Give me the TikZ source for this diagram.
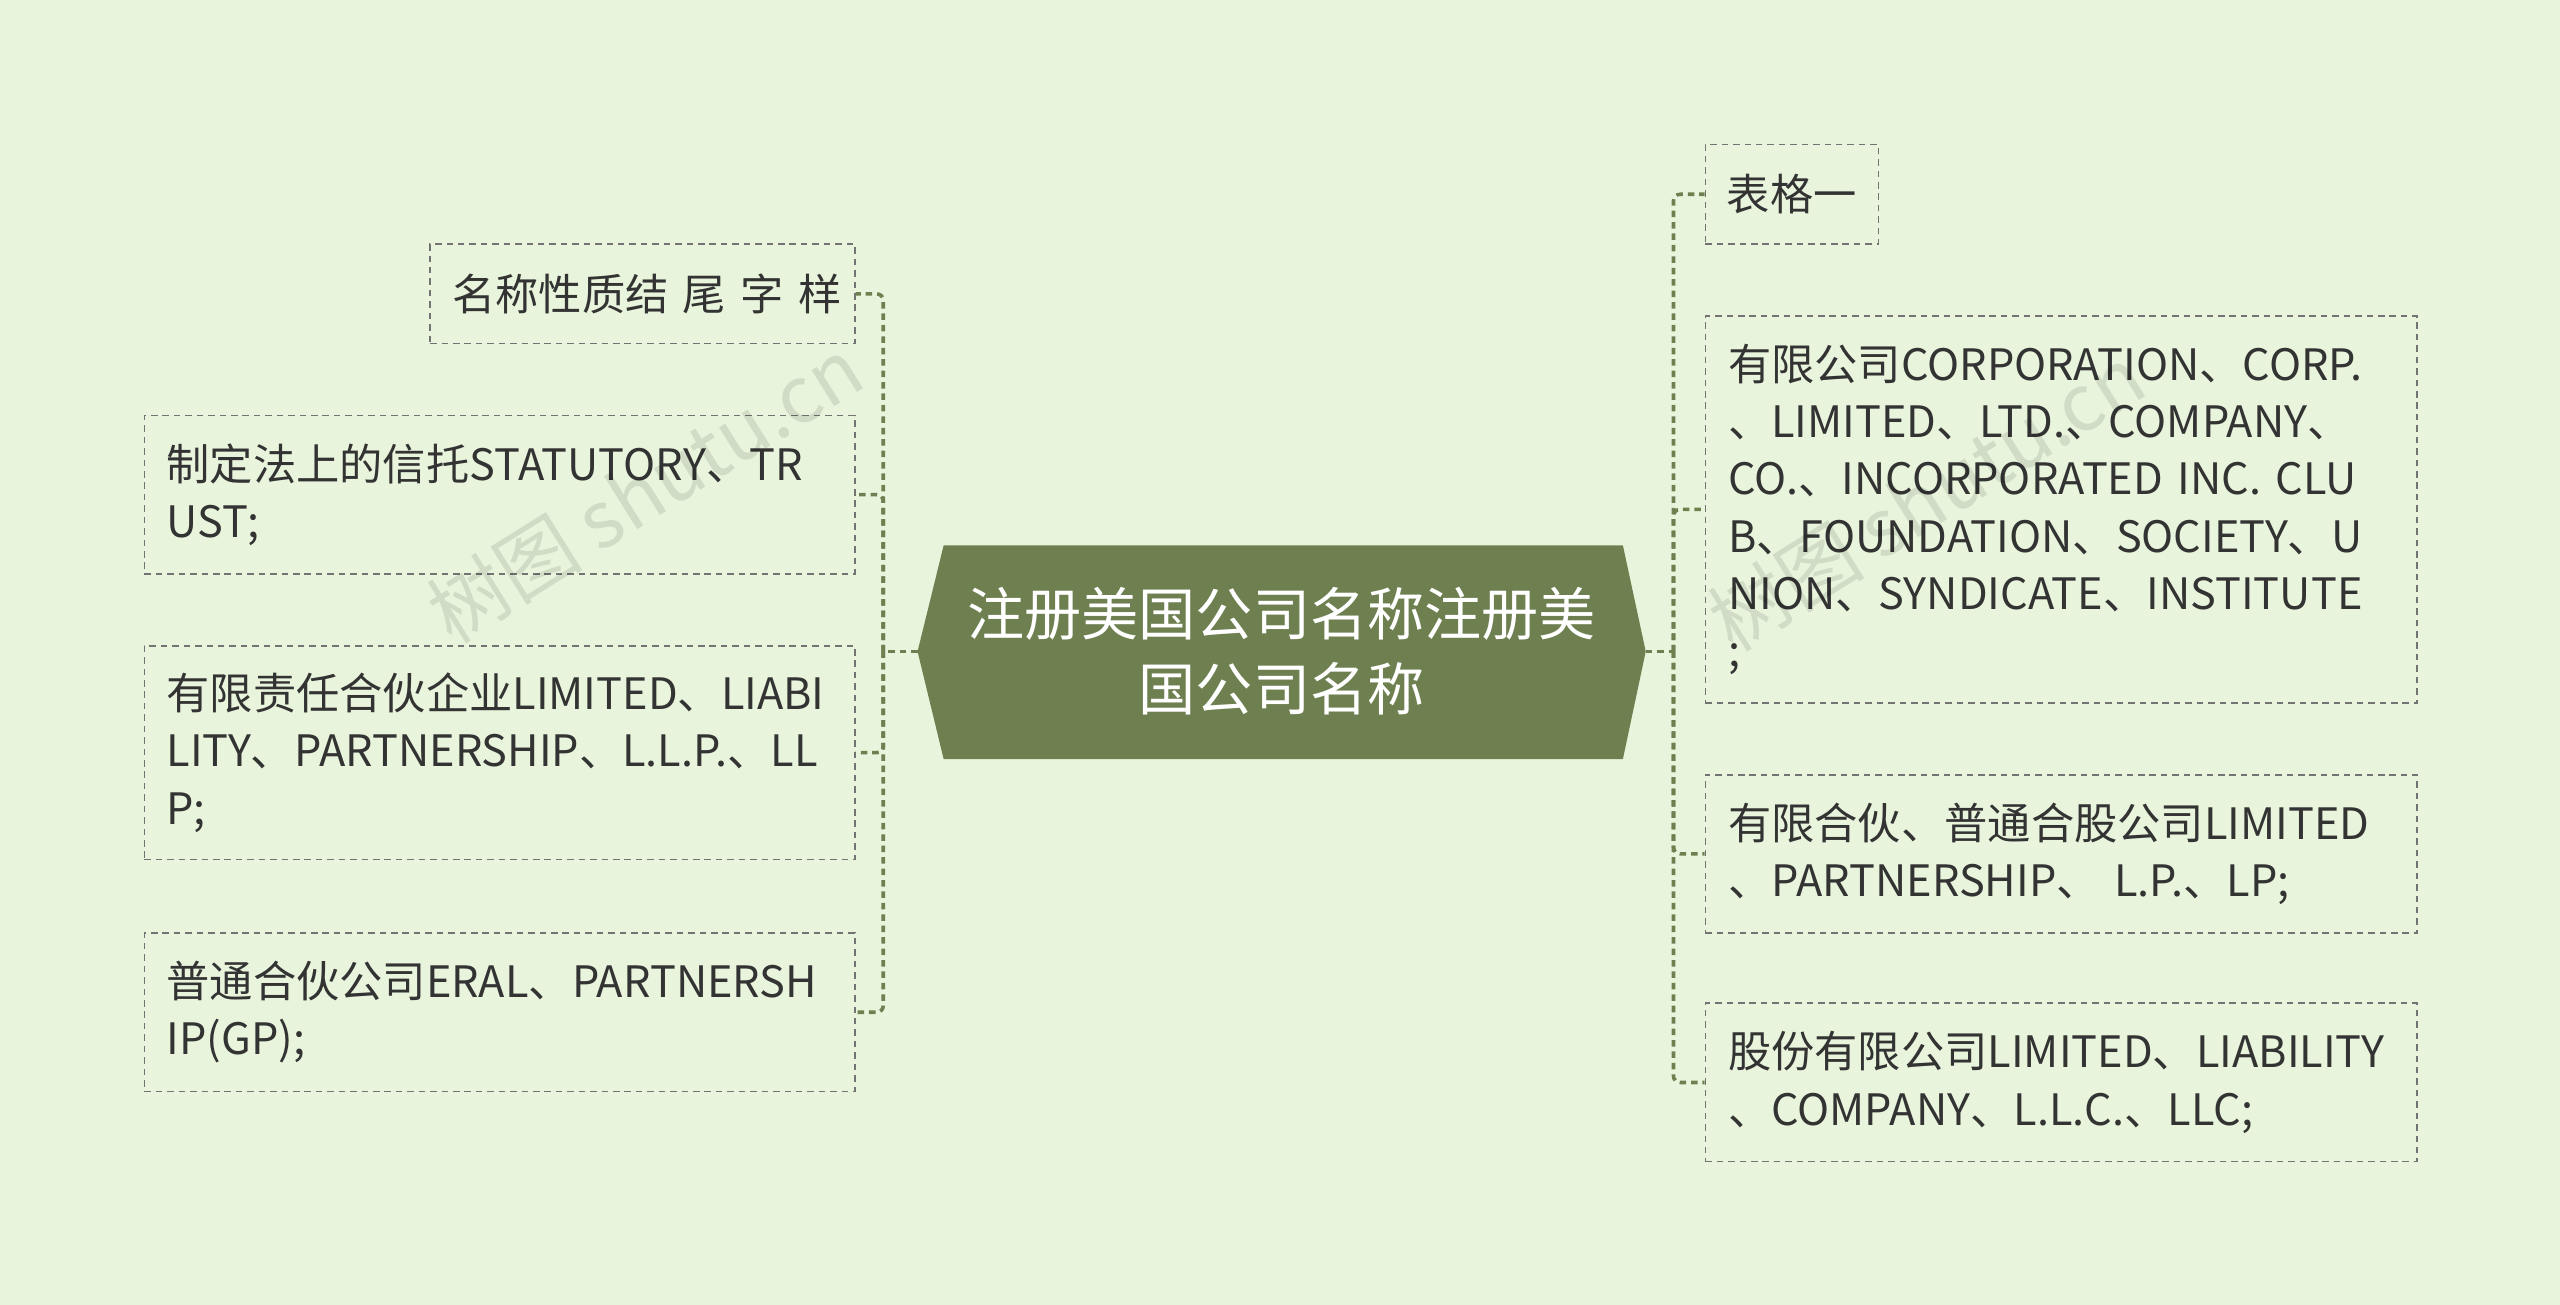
\documentclass[tikz,border=0pt]{standalone}
\usepackage{fontspec}
\setmainfont{Noto Sans CJK SC}
\begin{document}
\begin{tikzpicture}[x=1pt,y=-1pt,
  box/.style={draw=black!55, dashed, dash pattern=on 4pt off 3pt, line width=1pt, fill=bg, anchor=north west, inner sep=0pt, align=left, text=black!80, font=\fontsize{26.5}{35}\selectfont},
  conn/.style={draw=hub, line width=2.2pt, dash pattern=on 4pt off 3pt, rounded corners=4pt}]
\definecolor{bg}{HTML}{E8F5DC}
\definecolor{hub}{HTML}{6E7F50}
\fill[bg] (0,0) rectangle (1568,799);
\useasboundingbox (0,0) rectangle (1568,799);
% center
\fill[hub] (578,334) -- (994,334) -- (1008,399) -- (994,465) -- (578,465) -- (562,399) -- cycle;
\node[text=white, align=center, font=\fontsize{35}{46}\selectfont] (c) at (785,399) {注册美国公司名称注册美\\国公司名称};
\coordinate (cw) at (562,399);
\coordinate (ce) at (1008,399);
% left boxes
\node[box, minimum width=260pt, minimum height=61pt, text width=244pt, align=right] (l1) at (263,149) {名称性质结 尾 字 样};
\node[box, minimum width=435pt, minimum height=97pt, text width=408pt] (l2) at (88,254) {制定法上的信托STATUTORY、TR\\UST;};
\node[box, minimum width=435pt, minimum height=131pt, text width=408pt] (l3) at (88,395) {有限责任合伙企业LIMITED、LIABI\\LITY、PARTNERSHIP、L.L.P.、LL\\P;};
\node[box, minimum width=435pt, minimum height=97pt, text width=408pt] (l4) at (88,571) {普通合伙公司ERAL、PARTNERSH\\IP(GP);};
% right boxes
\node[box, minimum width=106pt, minimum height=61pt, align=center] (r1) at (1044,88) {表格一};
\node[box, minimum width=436pt, minimum height=237pt, text width=408pt] (r2) at (1044,193) {有限公司CORPORATION、CORP.\\、LIMITED、LTD.、COMPANY、\\CO.、INCORPORATED INC. CLU\\B、FOUNDATION、SOCIETY、U\\NION、SYNDICATE、INSTITUTE\\;};
\node[box, minimum width=436pt, minimum height=97pt, text width=408pt] (r3) at (1044,474) {有限合伙、普通合股公司LIMITED\\、PARTNERSHIP、 L.P.、LP;};
\node[box, minimum width=436pt, minimum height=97pt, text width=408pt] (r4) at (1044,614) {股份有限公司LIMITED、LIABILITY\\、COMPANY、L.L.C.、LLC;};
% connectors
\coordinate (ls) at (541,399);
\coordinate (rs) at (1025,399);
\draw[conn] (cw) -- (ls);
\draw[conn] (ls) |- (l1.east);
\draw[conn] (ls) |- (l2.east);
\draw[conn] (ls) |- (l3.east);
\draw[conn] (ls) |- (l4.east);
\draw[conn] (ce) -- (rs);
\draw[conn] (rs) |- (r1.west);
\draw[conn] (rs) |- (r2.west);
\draw[conn] (rs) |- (r3.west);
\draw[conn] (rs) |- (r4.west);
% watermarks
\node[rotate=32, text=black, opacity=0.1, font=\fontsize{48}{50}\selectfont] (w1) at (395,300) {树图 shutu.cn};
\node[rotate=32, text=black, opacity=0.1, font=\fontsize{48}{50}\selectfont] (w2) at (1180,305) {树图 shutu.cn};
\end{tikzpicture}
\end{document}
